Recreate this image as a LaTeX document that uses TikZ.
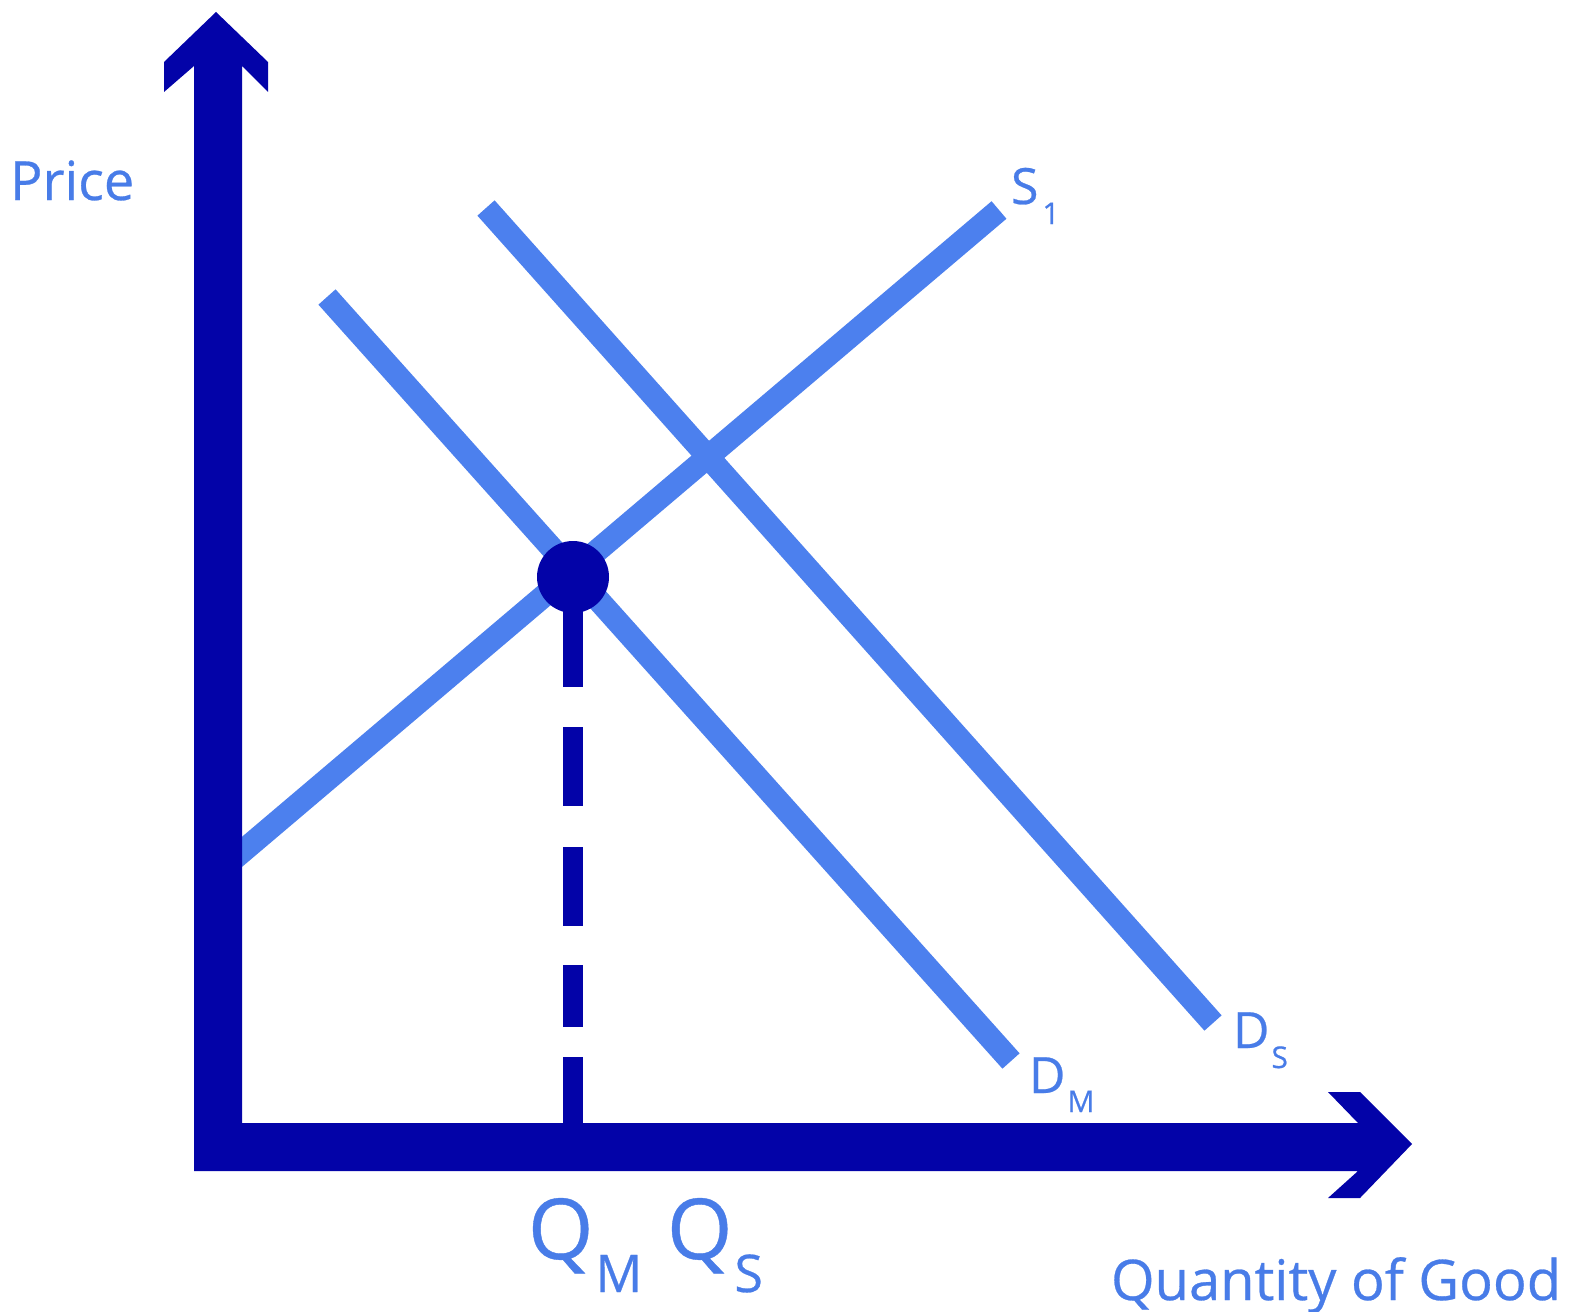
\documentclass[tikz,border=0pt]{standalone}
\usepackage{fontspec}
\setmainfont[FakeBold=0.5]{Open Sans}
\definecolor{axisblue}{RGB}{3,3,168}
\definecolor{lineblue}{RGB}{76,128,238}
\definecolor{textblue}{RGB}{72,124,232}
\newcommand{\fsz}[1]{\fontsize{#1}{#1}\selectfont}
\begin{document}
\begin{tikzpicture}[x=0.5pt,y=-0.5pt,
  curve/.style={draw=lineblue,line width=11.5pt,line cap=butt},
  lbl/.style={text=textblue,inner sep=0pt,outer sep=0pt,anchor=base west},
  dashseg/.style={draw=axisblue,line width=10pt,line cap=butt}]
\useasboundingbox (0,0) rectangle (1577,1311);
\fill[white] (0,0) rectangle (1577,1311);
% curve end points
\coordinate (s1lo) at (230,862);
\coordinate (s1hi) at (999,210);
\coordinate (dmhi) at (327,297);
\coordinate (dmlo) at (1011,1061);
\coordinate (dshi) at (486,208);
\coordinate (dslo) at (1213,1023);
\coordinate (eq) at (573,577);
% curves
\draw[curve] (s1lo) -- (s1hi);
\draw[curve] (dmhi) -- (dmlo);
\draw[curve] (dshi) -- (dslo);
% axes
\fill[axisblue] (216,12) -- (268,62) -- (268,92) -- (242,66) -- (242,1123)
  -- (1358,1123) -- (1328,1092) -- (1360,1092) -- (1412,1144) -- (1360,1198)
  -- (1328,1198) -- (1358,1171) -- (194,1171) -- (194,66) -- (164,92) -- (164,62) -- cycle;
% dashed drop line
\coordinate (d0) at (573,687);
\coordinate (d1a) at (573,727); \coordinate (d1b) at (573,806);
\coordinate (d2a) at (573,847); \coordinate (d2b) at (573,926);
\coordinate (d3a) at (573,965); \coordinate (d3b) at (573,1027);
\coordinate (d4a) at (573,1057); \coordinate (d4b) at (573,1125);
\draw[dashseg] (eq) -- (d0);
\draw[dashseg] (d1a) -- (d1b);
\draw[dashseg] (d2a) -- (d2b);
\draw[dashseg] (d3a) -- (d3b);
\draw[dashseg] (d4a) -- (d4b);
\fill[axisblue] (eq) circle[radius=18pt];
% labels
\node[lbl,font=\fsz{27}] (price) at (10,200) {Price};
\node[lbl] (s1) at (1011,204) {\fsz{25}S\kern2pt\raisebox{-10pt}{\fsz{15}1}};
\node[lbl] (ds) at (1233,1048) {\fsz{25}D\kern1pt\raisebox{-10pt}{\fsz{15}S}};
\node[lbl] (dm) at (1029,1093) {\fsz{25}D\kern1pt\raisebox{-9.5pt}{\fsz{15}M}};
\node[lbl] (qm) at (528,1259) {\fsz{42}Q\kern1pt\raisebox{-16.5pt}{\fsz{26}M}};
\node[lbl] (qs) at (667,1259) {\fsz{42}Q\kern1pt\raisebox{-16.5pt}{\fsz{26}S}};
\node[lbl,font=\fsz{28}] (qty) at (1111,1300) {Quantity of Good};
\end{tikzpicture}
\end{document}
